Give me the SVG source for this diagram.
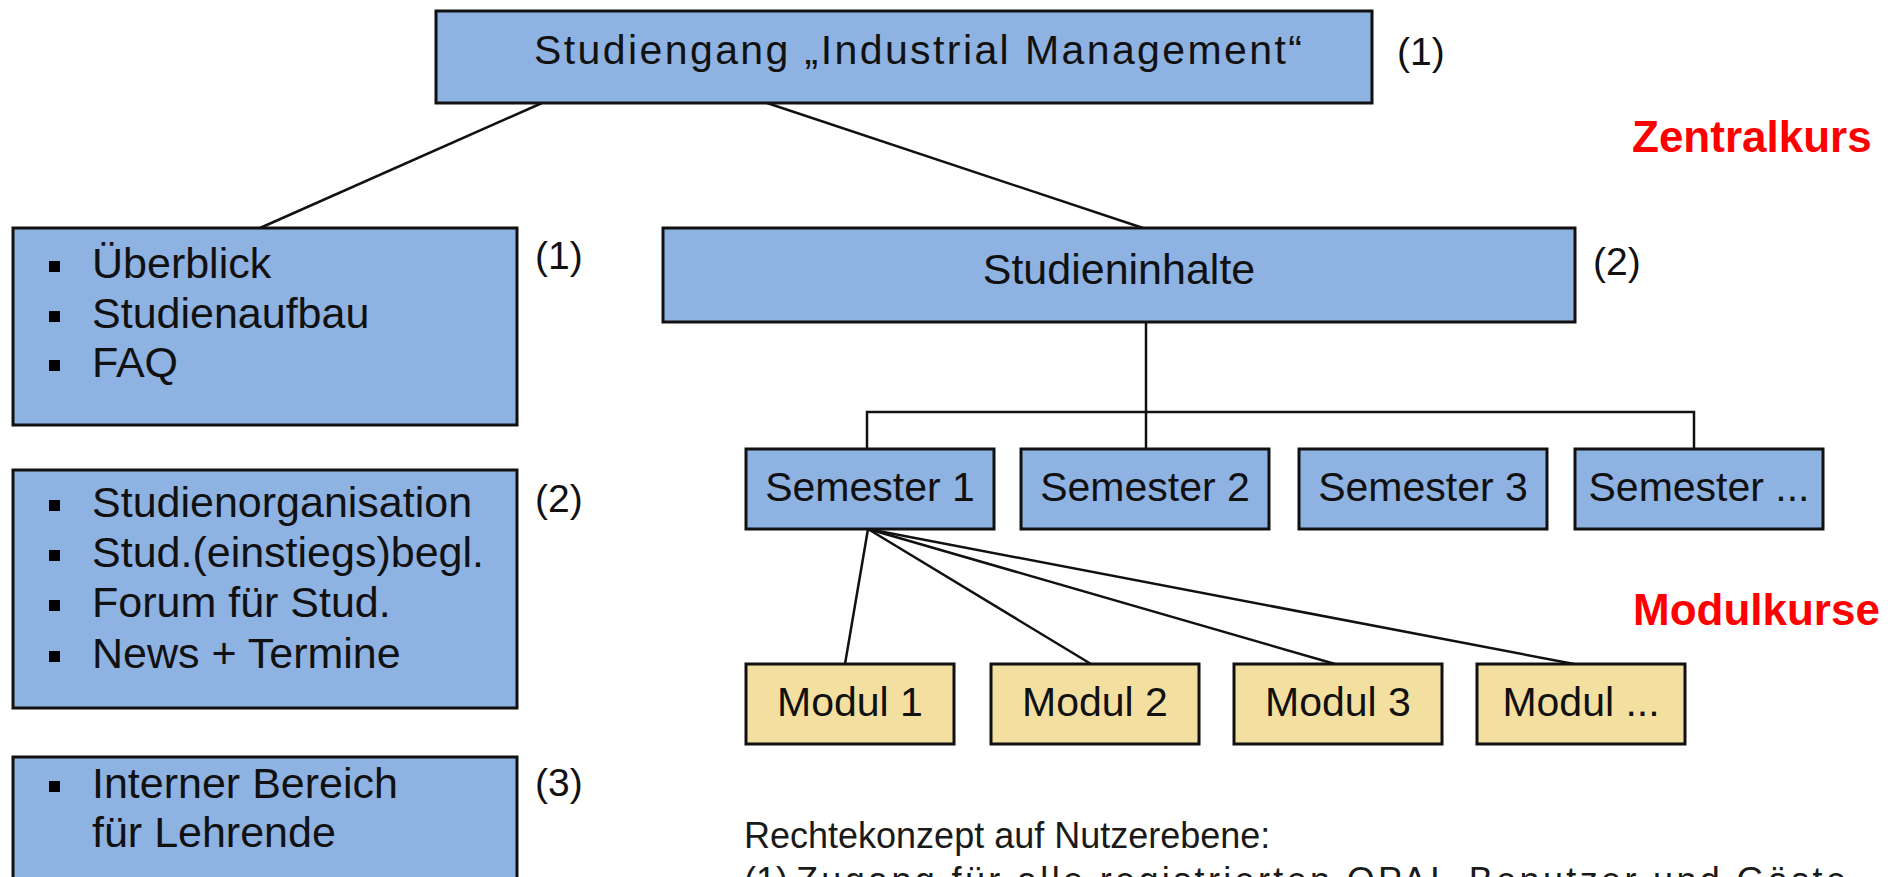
<svg xmlns="http://www.w3.org/2000/svg" width="1899" height="877" viewBox="0 0 1899 877">
  <style>
    .box { fill: #8EB2E1; stroke: #111; stroke-width: 3; }
    .mod { fill: #F3E0A0; stroke: #111; stroke-width: 3; }
    .t { font-family: "Liberation Sans", Arial, sans-serif; font-size: 41px; fill: #111; }
    .li { font-family: "Liberation Sans", Arial, sans-serif; font-size: 43px; fill: #111; }
    .c { text-anchor: middle; }
    .lbl { font-family: "Liberation Sans", Arial, sans-serif; font-size: 39px; fill: #111; }
    .red { font-family: "Liberation Sans", Arial, sans-serif; font-size: 44px; font-weight: bold; fill: #FF0000; }
    .note { font-family: "Liberation Sans", Arial, sans-serif; font-size: 36px; fill: #1a1a1a; }
    .bullet { fill: #000; }
    .conn { stroke: #111; stroke-width: 2.5; fill: none; }
  </style>
  <rect width="1899" height="877" fill="#FFFFFF"/>

  <g id="connectors">
    <line class="conn" x1="542" y1="103" x2="260" y2="228"/>
    <line class="conn" x1="767" y1="103" x2="1143" y2="228"/>
    <line class="conn" x1="1146" y1="322" x2="1146" y2="449"/>
    <polyline class="conn" points="867,449 867,412 1694,412 1694,449"/>
    <line class="conn" x1="868" y1="529" x2="845" y2="664"/>
    <line class="conn" x1="868" y1="529" x2="1091" y2="664"/>
    <line class="conn" x1="868" y1="529" x2="1335" y2="664"/>
    <line class="conn" x1="868" y1="529" x2="1574" y2="664"/>
  </g>

  <g id="node-studiengang">
    <rect class="box" x="436" y="11" width="936" height="92"/>
    <text class="t" x="534" y="64" font-size="43" textLength="768" lengthAdjust="spacing">Studiengang „Industrial Management“</text>
    <text class="lbl" x="1397" y="65">(1)</text>
  </g>

  <g id="node-ueberblick">
    <rect class="box" x="13" y="228" width="504" height="197"/>
    <rect class="bullet" x="49" y="261" width="11" height="11"/>
    <rect class="bullet" x="49" y="311" width="11" height="11"/>
    <rect class="bullet" x="49" y="360" width="11" height="11"/>
    <text class="li" x="92" y="278">Überblick</text>
    <text class="li" x="92" y="328">Studienaufbau</text>
    <text class="li" x="92" y="377">FAQ</text>
    <text class="lbl" x="535" y="269">(1)</text>
  </g>

  <g id="node-organisation">
    <rect class="box" x="13" y="470" width="504" height="238"/>
    <rect class="bullet" x="49" y="500" width="11" height="11"/>
    <rect class="bullet" x="49" y="550" width="11" height="11"/>
    <rect class="bullet" x="49" y="600" width="11" height="11"/>
    <rect class="bullet" x="49" y="651" width="11" height="11"/>
    <text class="li" x="92" y="517">Studienorganisation</text>
    <text class="li" x="92" y="567">Stud.(einstiegs)begl.</text>
    <text class="li" x="92" y="617">Forum für Stud.</text>
    <text class="li" x="92" y="668">News + Termine</text>
    <text class="lbl" x="535" y="512">(2)</text>
  </g>

  <g id="node-intern">
    <rect class="box" x="13" y="757" width="504" height="150"/>
    <rect class="bullet" x="49" y="781" width="11" height="11"/>
    <text class="li" x="92" y="798">Interner Bereich</text>
    <text class="li" x="92" y="847">für Lehrende</text>
    <text class="lbl" x="535" y="796">(3)</text>
  </g>

  <g id="node-studieninhalte">
    <rect class="box" x="663" y="228" width="912" height="94"/>
    <text class="li c" x="1119" y="284">Studieninhalte</text>
    <text class="lbl" x="1593" y="275">(2)</text>
  </g>

  <g id="node-semester1">
    <rect class="box" x="746" y="449" width="248" height="80"/>
    <text class="t c" x="870" y="501">Semester 1</text>
  </g>
  <g id="node-semester2">
    <rect class="box" x="1021" y="449" width="248" height="80"/>
    <text class="t c" x="1145" y="501">Semester 2</text>
  </g>
  <g id="node-semester3">
    <rect class="box" x="1299" y="449" width="248" height="80"/>
    <text class="t c" x="1423" y="501">Semester 3</text>
  </g>
  <g id="node-semester4">
    <rect class="box" x="1575" y="449" width="248" height="80"/>
    <text class="t c" x="1699" y="501">Semester ...</text>
  </g>

  <g id="node-modul1">
    <rect class="mod" x="746" y="664" width="208" height="80"/>
    <text class="t c" x="850" y="716">Modul 1</text>
  </g>
  <g id="node-modul2">
    <rect class="mod" x="991" y="664" width="208" height="80"/>
    <text class="t c" x="1095" y="716">Modul 2</text>
  </g>
  <g id="node-modul3">
    <rect class="mod" x="1234" y="664" width="208" height="80"/>
    <text class="t c" x="1338" y="716">Modul 3</text>
  </g>
  <g id="node-modul4">
    <rect class="mod" x="1477" y="664" width="208" height="80"/>
    <text class="t c" x="1581" y="716">Modul ...</text>
  </g>

  <g id="labels">
    <text class="red" x="1632" y="152">Zentralkurs</text>
    <text class="red" x="1633" y="625">Modulkurse</text>
    <text class="note" x="744" y="848">Rechtekonzept auf Nutzerebene:</text>
    <text class="note" x="744" y="893">(1)</text>
    <text class="note" x="796" y="893" textLength="1050" lengthAdjust="spacing">Zugang für alle registrierten OPAL-Benutzer und Gäste</text>
  </g>
</svg>
